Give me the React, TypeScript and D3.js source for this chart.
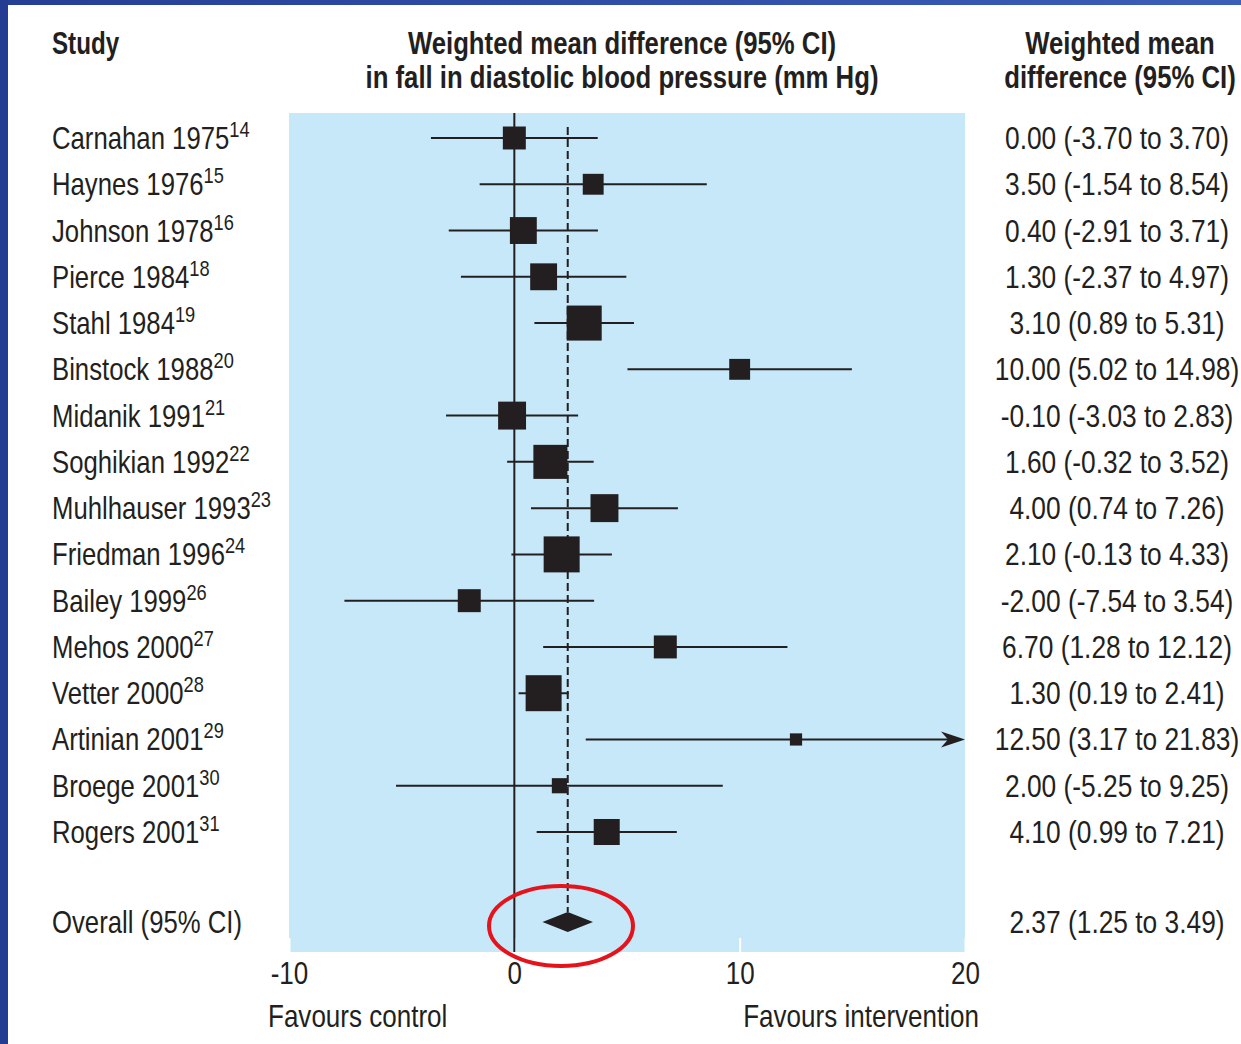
import * as d3 from 'd3';
import { useEffect, useRef } from 'react';
import type { ReactNode } from 'react';

const studies = [
    'Carnahan 1975', 'Haynes 1976', 'Johnson 1978', 'Pierce 1984', 'Stahl 1984',
    'Binstock 1988', 'Midanik 1991', 'Soghikian 1992', 'Muhlhauser 1993', 'Friedman 1996',
    'Bailey 1999', 'Mehos 2000', 'Vetter 2000', 'Artinian 2001', 'Broege 2001', 'Rogers 2001',
];
const refs = ['14', '15', '16', '18', '19', '20', '21', '22', '23', '24', '26', '27', '28', '29', '30', '31'];
const means = [0.0, 3.5, 0.4, 1.3, 3.1, 10.0, -0.1, 1.6, 4.0, 2.1, -2.0, 6.7, 1.3, 12.5, 2.0, 4.1];
const lower = [-3.7, -1.54, -2.91, -2.37, 0.89, 5.02, -3.03, -0.32, 0.74, -0.13, -7.54, 1.28, 0.19, 3.17, -5.25, 0.99];
const upper = [3.7, 8.54, 3.71, 4.97, 5.31, 14.98, 2.83, 3.52, 7.26, 4.33, 3.54, 12.12, 2.41, 21.83, 9.25, 7.21];
// relative weights
const weights = [4.6, 3.8, 6.3, 6.3, 10.7, 3.8, 6.8, 10.1, 6.8, 11.3, 4.6, 4.6, 11.3, 1.3, 2.0, 5.9];
const overall = { mean: 2.37, lower: 1.25, upper: 3.49 };
const xTicks = [-10, 0, 10, 20];

const W = 1241;
const H = 1044;
const FONT = '"Liberation Sans", Arial, sans-serif';
const INK = '#231f20';
const FS = 31;

const panel = { left: 289, right: 965, top: 113, bottom: 952 };
const overallY = 922;
const valueX = 1117;

const fmt = (v: number) => v.toFixed(2);

// condensed text: the reference uses a narrow grotesque, so squeeze Liberation Sans
function NText(props: {
    x: number;
    y: number;
    sx?: number;
    anchor?: 'start' | 'middle' | 'end';
    bold?: boolean;
    children: ReactNode;
}) {
    const { x, y, sx = 0.83, anchor = 'start', bold, children } = props;
    return (
        <g transform={`translate(${x},${y}) scale(${sx},1)`}>
            <text textAnchor={anchor} fontWeight={bold ? 'bold' : 'normal'} fontSize={FS} fill={INK}>
                {children}
            </text>
        </g>
    );
}

export default function App() {
    const axisRef = useRef<SVGGElement>(null);

    const x = d3.scaleLinear().domain([-10, 20]).range([panel.left, panel.right]);
    const y = d3.scalePoint<string>().domain(studies).range([138, 832]);
    const side = d3.scaleSqrt().domain([0, d3.max(weights)!]).range([0, 36]);

    useEffect(() => {
        if (!axisRef.current) return;
        const g = d3.select(axisRef.current);
        g.selectAll('*').remove();
        g.call(
            d3
                .axisBottom(x)
                .tickValues(xTicks)
                .tickSize(-14)
                .tickPadding(10)
                .tickFormat((d) => `${d}`)
        )
            .call((g) => g.select('.domain').remove())
            .call((g) => g.selectAll('.tick line').attr('stroke', '#fff').attr('stroke-width', 2))
            .call((g) =>
                g
                    .selectAll('.tick text')
                    .attr('fill', INK)
                    .attr('font-size', FS)
                    .attr('font-family', FONT)
                    .attr('transform', 'scale(0.84,1)')
            );
    }, [x]);

    const rows = studies.map((s, i) => ({
        name: s,
        ref: refs[i],
        mean: means[i],
        lo: lower[i],
        hi: upper[i],
        w: weights[i],
        y: y(s)!,
    }));

    return (
        <svg
            width={W}
            height={H}
            viewBox={`0 0 ${W} ${H}`}
            style={{ position: 'absolute', left: 0, top: 0 }}
            fontFamily={FONT}
        >
            <defs>
                <linearGradient id="frameTop" x1="0" x2="1">
                    <stop offset="0" stopColor="#263f96" />
                    <stop offset="1" stopColor="#3b5eb8" />
                </linearGradient>
            </defs>
            <rect width={W} height={H} fill="#fff" />
            <rect width={W} height={5} fill="url(#frameTop)" />
            <rect width={8} height={H} fill="#253c93" />

            {/* headers */}
            <NText x={52} y={54} bold sx={0.78}>Study</NText>
            <NText x={622} y={54} bold anchor="middle">Weighted mean difference (95% CI)</NText>
            <NText x={622} y={88} bold anchor="middle">in fall in diastolic blood pressure (mm Hg)</NText>
            <NText x={1120} y={54} bold anchor="middle">Weighted mean</NText>
            <NText x={1120} y={88} bold anchor="middle">difference (95% CI)</NText>

            <rect
                x={panel.left}
                y={panel.top}
                width={panel.right - panel.left}
                height={panel.bottom - panel.top}
                fill="#c6e8f8"
            />
            <g ref={axisRef} transform={`translate(0, ${panel.bottom})`} />

            {/* no-effect line and overall-effect line */}
            <line x1={x(0)} x2={x(0)} y1={panel.top} y2={panel.bottom} stroke={INK} strokeWidth={2} />
            <line
                x1={x(overall.mean)}
                x2={x(overall.mean)}
                y1={127}
                y2={overallY - 10}
                stroke={INK}
                strokeWidth={2}
                strokeDasharray="8 4"
            />

            {rows.map((r) => {
                const s = side(r.w);
                const clipped = r.hi > 20;
                const x2 = clipped ? x(20) : x(r.hi);
                return (
                    <g key={r.name}>
                        <line x1={x(r.lo)} x2={clipped ? x2 - 10 : x2} y1={r.y} y2={r.y} stroke={INK} strokeWidth={2} />
                        {clipped && (
                            <path
                                d={`M${x2},${r.y} L${x2 - 24},${r.y - 8} L${x2 - 17},${r.y} L${x2 - 24},${r.y + 8} Z`}
                                fill={INK}
                            />
                        )}
                        <rect x={x(r.mean) - s / 2} y={r.y - s / 2} width={s} height={s} fill={INK} />
                        <NText x={52} y={r.y + 11}>
                            {r.name}
                            <tspan fontSize={22} dy={-12}>{r.ref}</tspan>
                        </NText>
                        <NText x={valueX} y={r.y + 11} sx={0.85} anchor="middle">
                            {`${fmt(r.mean)} (${fmt(r.lo)} to ${fmt(r.hi)})`}
                        </NText>
                    </g>
                );
            })}

            {/* overall */}
            <path
                d={`M${x(overall.lower)},${overallY} L${x(overall.mean)},${overallY - 10} L${x(overall.upper)},${overallY} L${x(overall.mean)},${overallY + 10} Z`}
                fill={INK}
            />
            <NText x={52} y={overallY + 11}>Overall (95% CI)</NText>
            <NText x={valueX} y={overallY + 11} sx={0.85} anchor="middle">
                {`${fmt(overall.mean)} (${fmt(overall.lower)} to ${fmt(overall.upper)})`}
            </NText>
            <ellipse cx={561} cy={926} rx={72} ry={40} fill="none" stroke="#e5141c" strokeWidth={4} />

            <NText x={268} y={1027} sx={0.84}>Favours control</NText>
            <NText x={979} y={1027} sx={0.84} anchor="end">Favours intervention</NText>
        </svg>
    );
}
